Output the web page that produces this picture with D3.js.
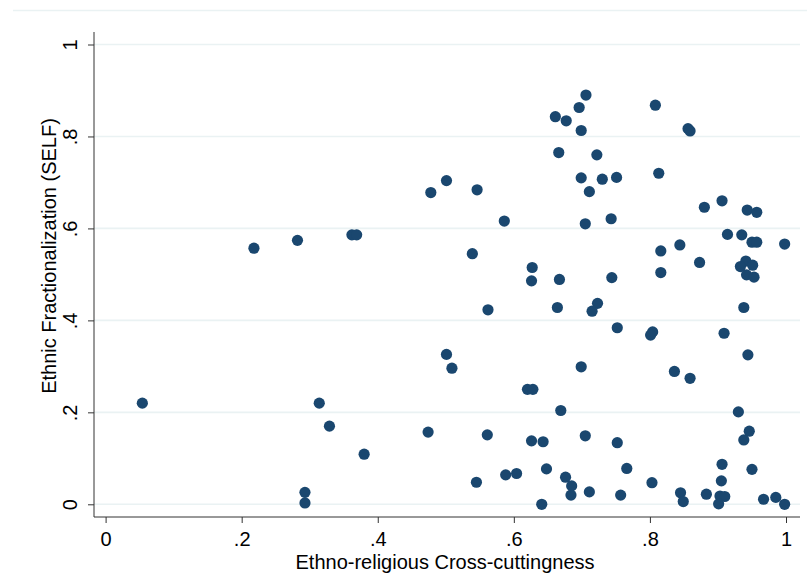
<!DOCTYPE html>
<html>
<head>
<meta charset="utf-8">
<script src="https://cdn.jsdelivr.net/npm/d3@7"></script>
<style>
  body { margin: 0; background: #fff; }
  svg text { font-family: "Liberation Sans", Arial, sans-serif; fill: #000; }
</style>
</head>
<body>
<div id="chart"></div>
<script>
// cross-cuttingness (x) and fractionalization (y)
const crossCut = [
  0.054, 0.218, 0.282, 0.362, 0.369, 0.293, 0.293, 0.314, 0.329, 0.380,
  0.474, 0.478, 0.501, 0.501, 0.509, 0.546, 0.539, 0.562, 0.561, 0.545,
  0.586, 0.588, 0.604, 0.627, 0.626, 0.620, 0.628, 0.626, 0.643, 0.648,
  0.641, 0.661, 0.677, 0.666, 0.696, 0.706, 0.699, 0.664, 0.667, 0.669,
  0.676, 0.685, 0.684, 0.711, 0.699, 0.730, 0.751, 0.711, 0.722, 0.705,
  0.743, 0.744, 0.723, 0.715, 0.752, 0.699, 0.705, 0.752, 0.766, 0.757,
  0.803, 0.808, 0.856, 0.859, 0.813, 0.880, 0.906, 0.943, 0.957, 0.914,
  0.935, 0.950, 0.957, 0.998, 0.816, 0.844, 0.873, 0.816, 0.941, 0.933,
  0.951, 0.942, 0.953, 0.938, 0.804, 0.801, 0.909, 0.944, 0.836, 0.859,
  0.930, 0.946, 0.938, 0.906, 0.950, 0.845, 0.849, 0.883, 0.905, 0.903,
  0.910, 0.901, 0.967, 0.985, 0.998
];
const ethnicFrac = [
  0.220, 0.557, 0.574, 0.586, 0.586, 0.026, 0.003, 0.220, 0.170, 0.109,
  0.157, 0.678, 0.704, 0.326, 0.296, 0.684, 0.545, 0.423, 0.151, 0.048,
  0.616, 0.064, 0.067, 0.515, 0.486, 0.250, 0.250, 0.138, 0.136, 0.077,
  0.000, 0.843, 0.834, 0.765, 0.863, 0.890, 0.813, 0.428, 0.489, 0.204,
  0.059, 0.040, 0.020, 0.027, 0.710, 0.707, 0.711, 0.680, 0.760, 0.610,
  0.621, 0.493, 0.437, 0.420, 0.384, 0.299, 0.149, 0.134, 0.078, 0.020,
  0.047, 0.868, 0.817, 0.812, 0.720, 0.646, 0.660, 0.640, 0.635, 0.587,
  0.586, 0.570, 0.570, 0.566, 0.551, 0.564, 0.526, 0.504, 0.529, 0.517,
  0.520, 0.499, 0.494, 0.428, 0.375, 0.368, 0.372, 0.325, 0.289, 0.274,
  0.201, 0.159, 0.140, 0.087, 0.076, 0.025, 0.006, 0.022, 0.051, 0.018,
  0.017, 0.001, 0.011, 0.015, 0.000
];
const tickValues = [0, 0.2, 0.4, 0.6, 0.8, 1];
const tickLabels = ["0", ".2", ".4", ".6", ".8", "1"];
const xTitle = "Ethno-religious Cross-cuttingness";
const yTitle = "Ethnic Fractionalization (SELF)";

const width = 807;
const height = 574;
const plot = { left: 94, right: 800, top: 32, bottom: 517 };
const fontSize = 20;

const svg = d3.select('#chart')
  .append('svg')
  .attr('width', width)
  .attr('height', height);

const x = d3.scaleLinear().domain([0, 1]).range([105.6, 786]);
const y = d3.scaleLinear().domain([0, 1]).range([504.3, 44.5]);

// faint outer border at the top
svg.append('line')
  .attr('x1', 13).attr('x2', width)
  .attr('y1', 10.5).attr('y2', 10.5)
  .attr('stroke', '#eaf2f3')
  .attr('stroke-width', 1.5);

// gridlines
svg.append('g')
  .selectAll('line')
  .data(tickValues)
  .join('line')
  .attr('x1', plot.left).attr('x2', plot.right)
  .attr('y1', (d) => y(d)).attr('y2', (d) => y(d))
  .attr('stroke', '#eaf2f3')
  .attr('stroke-width', 1.6);

// y axis
const yAxis = svg.append('g')
  .attr('transform', `translate(${plot.left},0)`)
  .call(d3.axisLeft(y).tickValues(tickValues).tickFormat((d, i) => tickLabels[i]).tickSize(6).tickSizeOuter(0));
yAxis.select('.domain').attr('d', `M0,${plot.top}V${plot.bottom}`).attr('stroke', '#333');
yAxis.selectAll('.tick line').attr('stroke', '#333');
yAxis.selectAll('.tick text')
  .attr('font-size', fontSize)
  .attr('x', 0).attr('y', 0).attr('dy', 0)
  .attr('text-anchor', 'middle')
  .attr('transform', 'translate(-17,0) rotate(-90)');

// x axis
const xAxis = svg.append('g')
  .attr('transform', `translate(0,${plot.bottom})`)
  .call(d3.axisBottom(x).tickValues(tickValues).tickFormat((d, i) => tickLabels[i]).tickSize(6).tickSizeOuter(0));
xAxis.select('.domain').attr('d', `M${plot.left},0H${plot.right}`).attr('stroke', '#333');
xAxis.selectAll('.tick line').attr('stroke', '#333');
xAxis.selectAll('.tick text')
  .attr('font-size', fontSize)
  .attr('y', 15);

// axis titles
svg.append('text')
  .attr('x', 445).attr('y', 569)
  .attr('text-anchor', 'middle')
  .attr('font-size', fontSize)
  .text(xTitle);
svg.append('text')
  .attr('transform', 'translate(56,256) rotate(-90)')
  .attr('text-anchor', 'middle')
  .attr('font-size', fontSize)
  .text(yTitle);

// points
const points = crossCut.map((d, i) => ({ x: d, y: ethnicFrac[i] }));
svg.append('g')
  .selectAll('circle')
  .data(points)
  .join('circle')
  .attr('cx', (d) => x(d.x))
  .attr('cy', (d) => y(d.y))
  .attr('r', 5.6)
  .attr('fill', '#1a476f');
</script>
</body>
</html>
